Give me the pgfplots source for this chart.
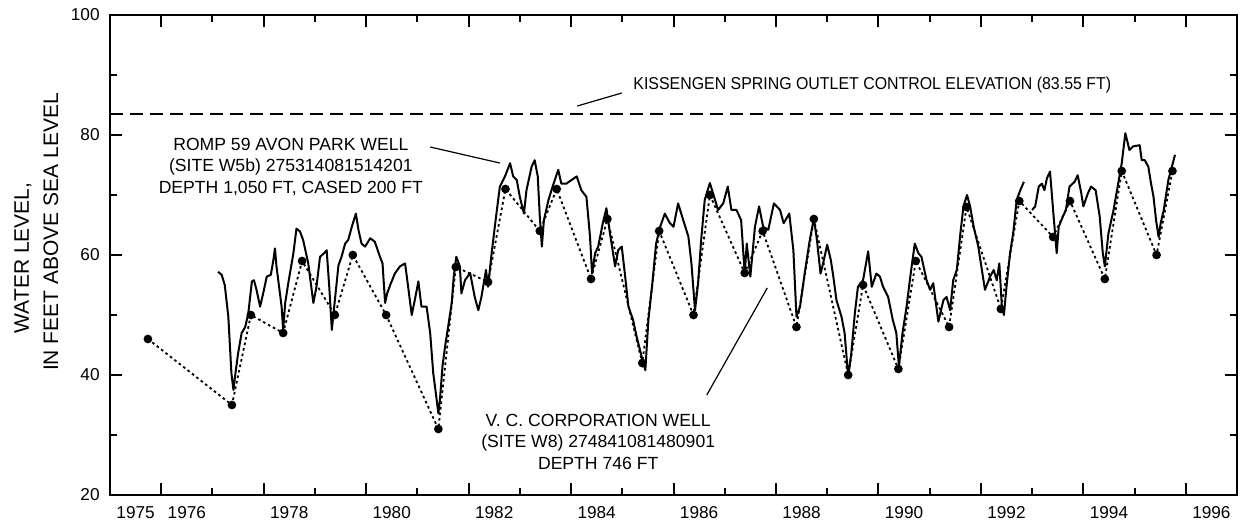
\documentclass[border=0pt]{standalone}
\usepackage{fontspec}
\setmainfont{Liberation Sans}
\usepackage{pgfplots}
\pgfplotsset{compat=1.18}
\pgfplotstableread{
x y
1977.11 57.2
1977.18 56.7
1977.24 55
1977.31 49.7
1977.37 40.3
1977.41 37.5
1977.44 39.7
1977.50 43.6
1977.57 47
1977.64 48
1977.70 50.3
1977.77 55.6
1977.81 55.8
1977.86 54.2
1977.93 51.4
1977.99 53.6
1978.06 56.4
1978.14 56.7
1978.19 59.2
1978.22 61.1
1978.25 58.1
1978.35 51.4
1978.38 47.5
1978.42 52
1978.48 55.3
1978.58 60.3
1978.64 64.4
1978.71 63.9
1978.77 62.5
1978.87 58.6
1978.97 52
1979.03 54.7
1979.10 59.7
1979.18 60.3
1979.23 60.8
1979.28 54.7
1979.33 47.5
1979.39 52.5
1979.46 58.3
1979.52 59.7
1979.59 61.9
1979.65 62.5
1979.72 64.7
1979.80 66.9
1979.85 64.2
1979.91 61.9
1979.98 61.4
1980.08 62.8
1980.17 62.2
1980.27 59.7
1980.32 58.6
1980.37 52
1980.41 53.6
1980.47 55
1980.56 56.9
1980.66 58.1
1980.76 58.6
1980.82 54.7
1980.89 50
1980.95 52.5
1981.02 55.6
1981.08 51.4
1981.18 51.4
1981.25 47
1981.31 40.3
1981.36 37
1981.41 33.6
1981.44 35.8
1981.49 41.4
1981.54 44.7
1981.60 48
1981.67 52
1981.71 56.4
1981.76 59.7
1981.83 58.1
1981.86 53.6
1981.93 55.8
1982.03 57
1982.12 53
1982.19 50.8
1982.25 53
1982.34 57.5
1982.38 54.7
1982.45 60.3
1982.52 65.3
1982.61 71.4
1982.71 73.1
1982.81 75.3
1982.87 73.1
1982.94 72.5
1983.00 69.7
1983.08 66.9
1983.13 70.8
1983.23 74.7
1983.29 75.8
1983.35 73.1
1983.39 66.4
1983.43 61.4
1983.47 65.8
1983.56 69.2
1983.64 71.4
1983.75 74.2
1983.81 71.9
1983.91 71.9
1984.01 72.5
1984.11 73.1
1984.20 70.8
1984.30 69.7
1984.37 63.1
1984.41 56.9
1984.47 60.3
1984.53 61.4
1984.62 65.3
1984.69 67.8
1984.76 63.6
1984.86 58.1
1984.92 60.8
1984.99 61.4
1985.05 56.9
1985.12 51.4
1985.21 49.2
1985.28 46.4
1985.38 43
1985.45 40.8
1985.51 49.2
1985.58 54.7
1985.66 61.9
1985.74 64.7
1985.83 66.9
1985.93 65.3
1986.00 64.7
1986.09 68.6
1986.19 65.8
1986.29 63.1
1986.35 58.6
1986.42 50.8
1986.48 55.3
1986.54 62.5
1986.61 69.2
1986.71 72
1986.77 70.3
1986.87 67.5
1986.97 68.6
1987.06 71.4
1987.13 67.5
1987.23 67.5
1987.32 65.8
1987.39 56.9
1987.43 61.9
1987.50 56.4
1987.59 64.7
1987.67 68.1
1987.75 64.7
1987.85 64.2
1987.96 68.6
1988.08 67.5
1988.15 65.3
1988.26 66.9
1988.34 60.8
1988.40 49.7
1988.47 51.4
1988.56 56.9
1988.66 62.5
1988.74 66.1
1988.80 62.5
1988.87 56.9
1988.92 58.6
1989.00 61.7
1989.07 59.2
1989.12 56.4
1989.18 52.5
1989.28 49.7
1989.34 47
1989.41 39.7
1989.47 43.6
1989.54 50.3
1989.60 54.7
1989.70 55.8
1989.80 60.6
1989.87 54.7
1989.96 56.9
1990.03 56.4
1990.09 54.7
1990.19 53
1990.28 49.2
1990.35 47
1990.40 41.4
1990.47 47
1990.55 51.4
1990.63 56.9
1990.71 61.9
1990.78 60.3
1990.84 59.7
1990.94 55.8
1991.01 54.2
1991.07 55.3
1991.17 48.9
1991.27 52.5
1991.33 53
1991.40 50.8
1991.46 55.8
1991.53 57.5
1991.60 63.6
1991.66 68.1
1991.73 70
1991.79 68.1
1991.86 64.7
1991.95 61.4
1992.02 57.5
1992.08 54.2
1992.18 56.4
1992.25 57.5
1992.31 55.8
1992.36 58.6
1992.41 51.4
1992.45 50
1992.50 54.7
1992.57 60.3
1992.63 63.6
1992.70 69.2
1992.77 70.8
1992.84 72.2
}\rompA
\pgfplotstableread{
x y
1993.00 67.5
1993.06 68.1
1993.13 71.4
1993.19 71.9
1993.24 70.8
1993.29 72.8
1993.35 73.9
1993.41 67.5
1993.48 60.3
1993.52 64.7
1993.60 66.4
1993.66 67.5
1993.73 71.4
1993.83 72.2
1993.89 73.3
1993.96 70.3
1994.00 68.1
1994.09 70.3
1994.15 71.4
1994.24 70.8
1994.32 66.4
1994.38 60.3
1994.42 58.1
1994.49 63.6
1994.59 67.5
1994.67 71.4
1994.75 75.3
1994.82 80.3
1994.90 77.5
1994.97 78.1
1995.10 78.3
1995.14 75.8
1995.20 75.8
1995.27 74.7
1995.31 72.5
1995.37 69.7
1995.42 65.8
1995.47 63
1995.51 65.3
1995.57 67.5
1995.66 72.5
1995.79 76.7
}\rompB
\pgfplotstableread{
x y
1975.74 46
1977.38 35
1977.75 50
1978.38 47
1978.75 59
1979.39 50
1979.74 60
1980.39 50
1981.41 31
1981.75 58
1982.38 55.5
1982.72 71
1983.39 64
1983.72 71
1984.39 56
1984.71 66
1985.39 42
1985.72 64
1986.39 50
1986.71 70
1987.39 57
1987.74 64
1988.40 48
1988.74 66
1989.41 40
1989.70 55
1990.39 41
1990.73 59
1991.38 48
1991.72 68
1992.39 51
1992.75 69
1993.41 63
1993.74 69
1994.42 56
1994.75 74
1995.43 60
1995.74 74
}\vcwell
\begin{document}
\begin{tikzpicture}
\useasboundingbox (-55pt,-13.5pt) rectangle (565.5pt,247.5pt);
\begin{axis}[
  at={(0,0)}, anchor=south west,
  scale only axis, width=563.5pt, height=240pt,
  xmin=1975, xmax=1997, ymin=20, ymax=100,
  axis line style={line width=1.1pt},
  tick align=inside,
  xtick={1976,1978,...,1996}, minor xtick={1977,1979,...,1995},
  xticklabels={},
  extra x ticks={1975.5,1976.5,1978.5,1980.5,...,1996.5},
  extra x tick labels={1975,1976,1978,1980,1982,1984,1986,1988,1990,1992,1994,1996},
  extra x tick style={major tick length=0pt},
  ytick={20,40,...,100}, minor ytick={30,50,70,90},
  yticklabels={20,40,60,80,100},
  major tick length=6.2pt, minor tick length=3.6pt,
  every tick/.style={line width=1pt, black},
  tick label style={font=\fontsize{8.6}{10}\selectfont},
  yticklabel style={inner sep=0pt, xshift=-5pt},
  xticklabel style={inner sep=0pt, yshift=-5.5pt},
  /pgf/number format/assume math mode=true,
]
\addplot[line width=1pt, dash pattern=on 6.5pt off 3.5pt] coordinates {(1975,83.55) (1997,83.55)};
\addplot[line width=0.9pt, dash pattern=on 1.3pt off 1.5pt, mark=*, mark size=1.7pt, mark options={solid}] table[x=x,y=y] {\vcwell};
\addplot[line width=1pt, line join=round] table[x=x,y=y] {\rompA};
\addplot[line width=1pt, line join=round] table[x=x,y=y] {\rompB};
\node[anchor=west, xscale=0.925, font=\fontsize{8.6}{10}\selectfont] at (axis cs:1985.09,88.3) {KISSENGEN SPRING OUTLET CONTROL ELEVATION (83.55 FT)};
\draw[line width=0.6pt] (axis cs:1984.12,84.83) -- (axis cs:1984.99,87.0);
\node[align=center, font=\fontsize{8.8}{10.75}\selectfont] at (axis cs:1978.53,74.67) {ROMP 59 AVON PARK WELL\\(SITE W5b) 275314081514201\\DEPTH 1,050 FT, CASED 200 FT};
\draw[line width=0.6pt] (axis cs:1981.25,78.0) -- (axis cs:1982.61,75.33);
\node[align=center, font=\fontsize{8.8}{10.75}\selectfont] at (axis cs:1984.53,28.92) {V. C. CORPORATION WELL\\(SITE W8) 274841081480901\\DEPTH 746 FT};
\draw[line width=0.6pt] (axis cs:1986.65,36.67) -- (axis cs:1987.83,54.5);
\end{axis}
\node[rotate=90, font=\fontsize{10.5}{12}\selectfont] at (-43.5pt,118.5pt) {WATER LEVEL,};
\node[rotate=90, font=\fontsize{10.5}{12}\selectfont] at (-29.5pt,131.5pt) {IN FEET ABOVE SEA LEVEL};
\end{tikzpicture}
\end{document}
